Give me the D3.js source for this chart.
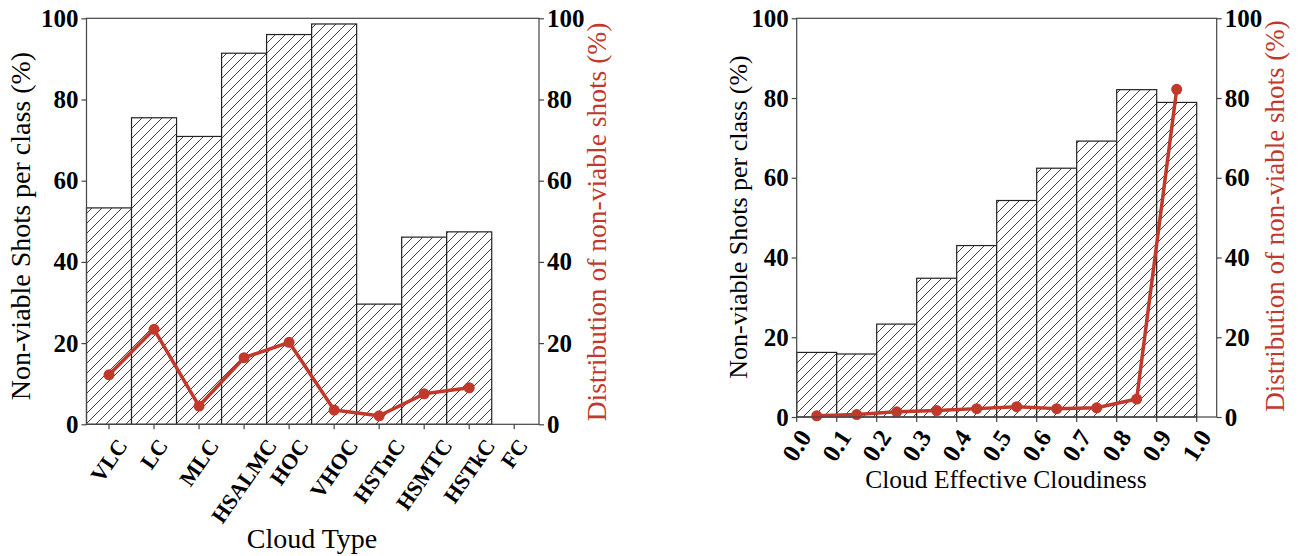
<!DOCTYPE html>
<html>
<head>
<meta charset="utf-8">
<script src="https://cdn.jsdelivr.net/npm/d3@7"></script>
<style>
  body { margin: 0; background: #fff; }
  svg { display: block; }
</style>
</head>
<body>
<div id="chart"></div>
<script>
// left panel: cloud types
var cloudTypes = ["VLC","LC","MLC","HSALMC","HOC","VHOC","HSTnC","HSMTC","HSTkC","FC"]
var typeShare = [53.3, 75.5, 70.9, 91.4, 96.0, 98.6, 29.6, 46.1, 47.4, 0]     // non-viable per class (%)
var typeDist = [12.2, 23.4, 4.5, 16.4, 20.2, 3.5, 2.1, 7.5, 9.0]              // distribution (%), FC has none

// right panel: effective cloudiness bins
var binStarts = [0.0, 0.1, 0.2, 0.3, 0.4, 0.5, 0.6, 0.7, 0.8, 0.9]
var binShare = [16.2, 15.8, 23.3, 34.8, 43.0, 54.3, 62.4, 69.2, 82.1, 78.9]
var binDist = [0.3, 0.6, 1.3, 1.6, 2.1, 2.6, 2.1, 2.3, 4.5, 82.2]
var cloudTicks = [0.0, 0.1, 0.2, 0.3, 0.4, 0.5, 0.6, 0.7, 0.8, 0.9, 1.0]
var yTicks = [0, 20, 40, 60, 80, 100]

var red = "#c0392b"
var spine = "#444"
var serif = "'Liberation Serif', 'Times New Roman', serif"

var svg = d3.select("#chart").append("svg")
    .attr("width", 1298)
    .attr("height", 556)

// hatch pattern "//"
var pat = svg.append("defs").append("pattern")
    .attr("id", "hatch")
    .attr("patternUnits", "userSpaceOnUse")
    .attr("width", 10).attr("height", 10)
pat.append("rect").attr("width", 10).attr("height", 10).attr("fill", "white")
pat.append("path")
    .attr("d", "M-1,1 l2,-2 M0,10 l10,-10 M9,11 l2,-2")
    .attr("stroke", "#111")
    .attr("stroke-width", 0.8)

function label(g, size, txt) {
  return g.append("text")
    .style("font-family", serif)
    .attr("font-size", size)
    .attr("text-anchor", "middle")
    .text(txt)
}

// rotated tick labels, bounding box centred under the tick (like matplotlib)
function rotatedLabels(g, ticks, xpos, text, y0, size, angle) {
  var a = angle * Math.PI / 180
  ticks.forEach(function(t){
    var lab = label(g, size, text(t))
      .attr("font-weight", "bold")
      .attr("dominant-baseline", "central")
    var w = lab.node().getComputedTextLength()
    var h = size * 0.8
    var H = w * Math.sin(a) + h * Math.cos(a)
    lab.attr("transform", "translate(" + xpos(t) + "," + (y0 + H / 2) + ") rotate(" + (-angle) + ")")
  })
}

function frame(g, x0, x1, y) {
  g.append("rect")
    .attr("x", x0).attr("y", y.range()[1])
    .attr("width", x1 - x0).attr("height", y.range()[0] - y.range()[1])
    .attr("fill", "none").attr("stroke", spine).attr("stroke-width", 1.2)
}

function yAxes(g, x0, x1, y) {
  var left = d3.axisLeft(y).tickValues(yTicks).tickSize(5).tickPadding(3)
  var right = d3.axisRight(y).tickValues(yTicks).tickSize(5).tickPadding(3)
  ;[[left, x0], [right, x1]].forEach(function(p){
    var ax = g.append("g").attr("transform", "translate(" + p[1] + ",0)").call(p[0])
    ax.select(".domain").remove()
    ax.selectAll("line").attr("stroke", spine).attr("stroke-width", 1.2)
    ax.selectAll("text").attr("font-size", 25).attr("font-weight", "bold")
      .style("font-family", serif).attr("fill", "#000")
  })
}

function redLine(g, pts, x, y) {
  g.append("path")
    .datum(pts)
    .attr("fill", "none")
    .attr("stroke", red)
    .attr("stroke-width", 3.5)
    .attr("stroke-linejoin", "round")
    .attr("d", d3.line().x(d => x(d[0])).y(d => y(d[1])))
  g.selectAll("circle.pt")
    .data(pts)
    .join("circle")
      .attr("class", "pt")
      .attr("cx", d => x(d[0]))
      .attr("cy", d => y(d[1]))
      .attr("r", 5.5)
      .attr("fill", red)
}

// ---------------- left panel ----------------
var gL = svg.append("g")
var xL = d3.scaleLinear().domain([-0.5, 9.55]).range([86.5, 539])
var yL = d3.scaleLinear().domain([0, 100]).range([424.3, 18.3])

gL.selectAll("rect.bar")
  .data(typeShare)
  .join("rect")
    .attr("class", "bar")
    .attr("x", (d, i) => xL(i - 0.5))
    .attr("width", xL(1) - xL(0))
    .attr("y", d => yL(d))
    .attr("height", d => yL(0) - yL(d))
    .attr("fill", "url(#hatch)")
    .attr("stroke", "#222")
    .attr("stroke-width", 1.2)
    .style("display", d => d > 0 ? null : "none")

redLine(gL, typeDist.map((d, i) => [i, d]), xL, yL)
frame(gL, 86.5, 539, yL)
yAxes(gL, 86.5, 539, yL)

gL.selectAll("line.xt")
  .data(d3.range(cloudTypes.length))
  .join("line")
    .attr("class", "xt")
    .attr("x1", d => xL(d)).attr("x2", d => xL(d))
    .attr("y1", yL(0)).attr("y2", yL(0) + 5)
    .attr("stroke", spine).attr("stroke-width", 1.2)
rotatedLabels(gL, d3.range(cloudTypes.length), d => xL(d), d => cloudTypes[d], yL(0) + 12, 22, 55)

label(gL, 28, "Cloud Type").attr("x", 312).attr("y", 548)
label(gL, 28, "Non-viable Shots per class (%)")
  .attr("transform", "translate(30,226) rotate(-90)")
label(gL, 27.5, "Distribution of non-viable shots (%)")
  .attr("transform", "translate(606,222) rotate(-90)")
  .attr("fill", red)

// ---------------- right panel ----------------
var gR = svg.append("g")
var xR = d3.scaleLinear().domain([0, 1.05]).range([796.7, 1216.7])
var yR = d3.scaleLinear().domain([0, 100]).range([417, 18.3])

gR.selectAll("rect.bar")
  .data(binShare)
  .join("rect")
    .attr("class", "bar")
    .attr("x", (d, i) => xR(binStarts[i]))
    .attr("width", xR(0.1) - xR(0))
    .attr("y", d => yR(d))
    .attr("height", d => yR(0) - yR(d))
    .attr("fill", "url(#hatch)")
    .attr("stroke", "#222")
    .attr("stroke-width", 1.2)

redLine(gR, binDist.map((d, i) => [binStarts[i] + 0.05, d]), xR, yR)
frame(gR, 796.7, 1216.7, yR)
yAxes(gR, 796.7, 1216.7, yR)

gR.selectAll("line.xt")
  .data(cloudTicks)
  .join("line")
    .attr("class", "xt")
    .attr("x1", d => xR(d)).attr("x2", d => xR(d))
    .attr("y1", yR(0)).attr("y2", yR(0) + 5)
    .attr("stroke", spine).attr("stroke-width", 1.2)
rotatedLabels(gR, cloudTicks, d => xR(d), d => d3.format(".1f")(d), yR(0) + 10, 25, 57)

label(gR, 25.5, "Cloud Effective Cloudiness").attr("x", 1006).attr("y", 488)
label(gR, 26, "Non-viable Shots per class (%)")
  .attr("transform", "translate(747,217) rotate(-90)")
label(gR, 27, "Distribution of non-viable shots (%)")
  .attr("transform", "translate(1284,216) rotate(-90)")
  .attr("fill", red)
</script>
</body>
</html>
